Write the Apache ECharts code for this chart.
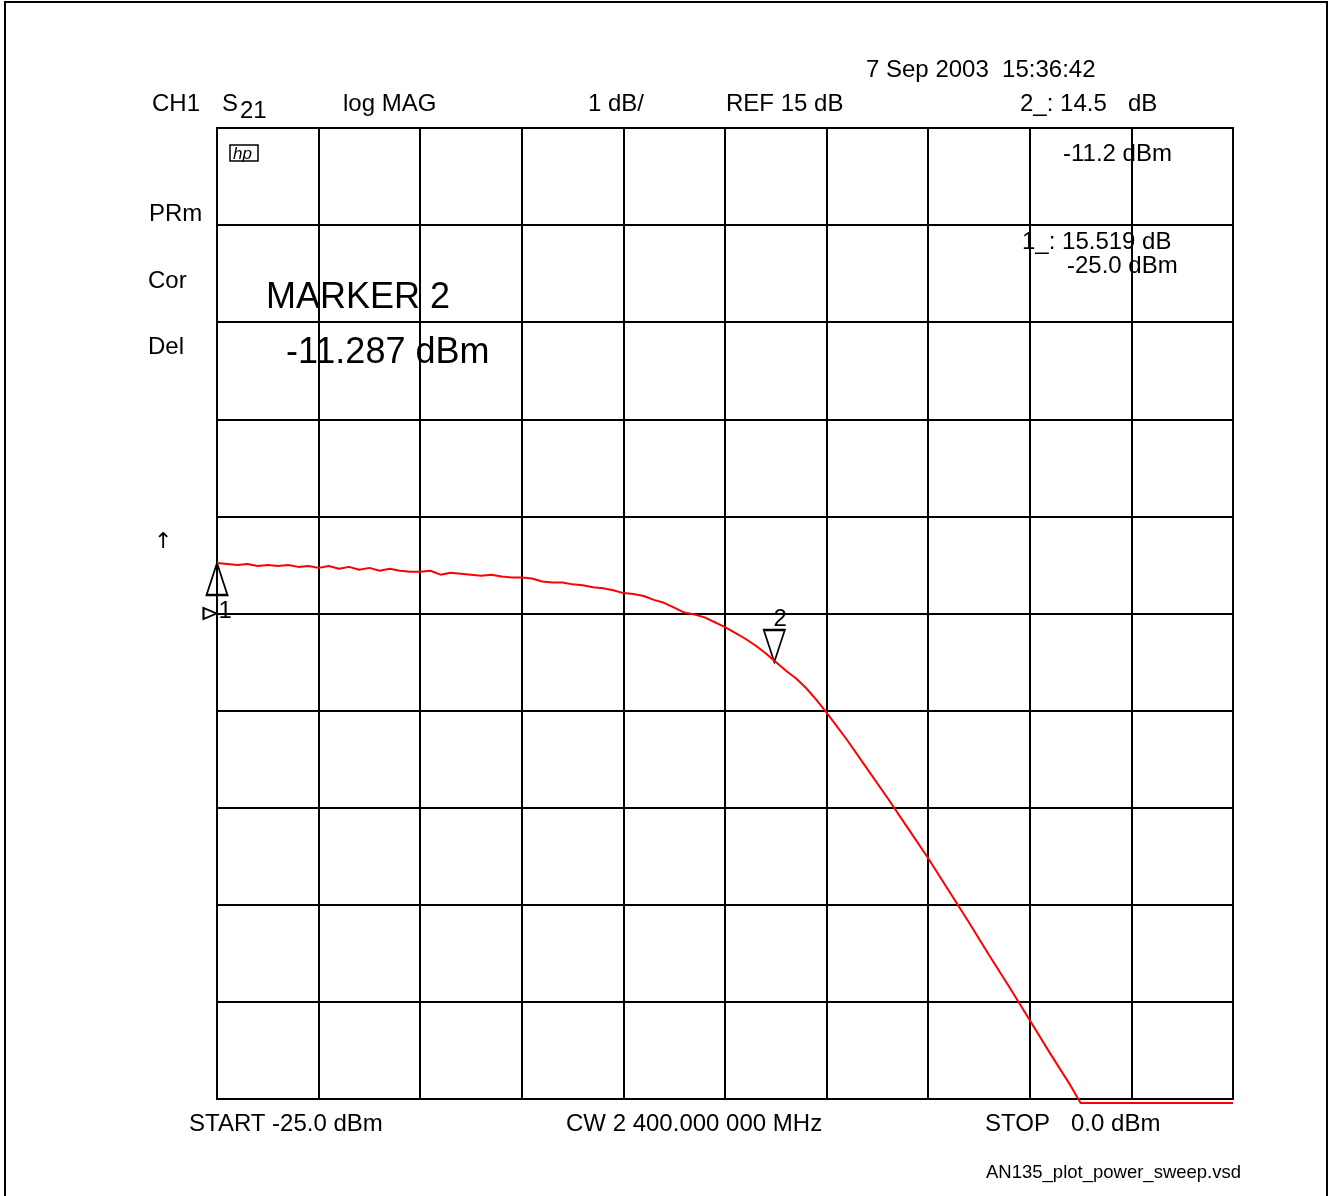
<!DOCTYPE html>
<html>
<head>
<meta charset="utf-8">
<script src="https://cdn.jsdelivr.net/npm/echarts@6/dist/echarts.min.js"></script>
<style>
  html, body { margin: 0; padding: 0; background: #fff; }
  #main { width: 1330px; height: 1196px; }
</style>
</head>
<body>
<div id="main"></div>
<script>
// power sweep, S21 log MAG (dB) vs input power (dBm)
var powerIn = [
  -25.0, -24.75, -24.5, -24.25, -24.0, -23.75, -23.5, -23.25, -23.0, -22.75,
  -22.5, -22.25, -22.0, -21.75, -21.5, -21.25, -21.0, -20.75, -20.5, -20.25,
  -20.0, -19.75, -19.5, -19.25, -19.0, -18.75, -18.5, -18.25, -18.0, -17.75,
  -17.5, -17.25, -17.0, -16.75, -16.5, -16.25, -16.0, -15.75, -15.5, -15.25,
  -15.0, -14.75, -14.5, -14.25, -14.0, -13.75, -13.5, -13.25, -13.0, -12.75,
  -12.5, -12.25, -12.0, -11.75, -11.5, -11.25, -11.0, -10.75, -10.5, -10.25,
  -10.0, -9.5, -9.0, -8.5, -8.0, -7.5, -7.0, -6.5, -6.0, -5.5,
  -5.0, -4.5, -4.0, -3.75, -3.5, -3.0, -2.5, -2.0, -1.5, -1.0, -0.5, 0.0
];
var s21 = [
  15.52, 15.51, 15.50, 15.51, 15.49, 15.50, 15.49, 15.50, 15.48, 15.49,
  15.47, 15.49, 15.46, 15.48, 15.45, 15.47, 15.44, 15.46, 15.44, 15.43,
  15.43, 15.44, 15.40, 15.42, 15.41, 15.40, 15.39, 15.40, 15.38, 15.37,
  15.37, 15.36, 15.33, 15.32, 15.32, 15.30, 15.29, 15.27, 15.26, 15.24,
  15.21, 15.20, 15.18, 15.14, 15.11, 15.06, 15.01, 14.99, 14.96, 14.91,
  14.86, 14.80, 14.74, 14.67, 14.59, 14.50, 14.41, 14.33, 14.23, 14.11,
  13.98, 13.70, 13.40, 13.10, 12.79, 12.48, 12.15, 11.82, 11.48, 11.15,
  10.81, 10.47, 10.14, 9.96, 9.96, 9.96, 9.96, 9.96, 9.96, 9.96, 9.96, 9.96
];

var markerPower = [-25.0, -11.287];
var markerGain = [15.519, 14.5];
var refLevel = 15;

var traceData = powerIn.map(function (p, i) { return [p, s21[i]]; });

var font = '24px "Liberation Sans", Arial, sans-serif';
var bigFont = '36px "Liberation Sans", Arial, sans-serif';

function txt(x, y, s, f) {
  return {
    type: 'text', x: x, y: y,
    style: { text: s, font: f || font, fill: '#000', verticalAlign: 'middle', align: 'left' }
  };
}

var myChart = echarts.init(document.getElementById('main'));
var option = {
  animation: false,
  backgroundColor: '#fff',
  grid: { left: 217, top: 128, width: 1016, height: 971, show: true, borderColor: '#000', borderWidth: 2 },
  xAxis: {
    type: 'value', min: -25, max: 0, interval: 2.5,
    axisLabel: { show: false }, axisTick: { show: false },
    axisLine: { show: true, lineStyle: { color: '#000', width: 2 } },
    splitLine: { show: true, lineStyle: { color: '#000', width: 2 } }
  },
  yAxis: {
    type: 'value', min: 10, max: 20, interval: 1,
    axisLabel: { show: false }, axisTick: { show: false },
    axisLine: { show: true, lineStyle: { color: '#000', width: 2 } },
    splitLine: { show: true, lineStyle: { color: '#000', width: 2 } }
  },
  series: [
    {
      type: 'line',
      data: traceData,
      clip: false,
      showSymbol: false,
      lineStyle: { color: '#ff0000', width: 2 },
      z: 5,
      markPoint: {
        data: [
          {
            coord: [markerPower[0], markerGain[0]],
            symbol: 'triangle', symbolSize: [21, 32], symbolOffset: [0, '50%'],
            itemStyle: { color: 'rgba(255,255,255,0)', borderColor: '#000', borderWidth: 2 },
            label: { show: false }
          },
          {
            coord: [markerPower[1], markerGain[1]],
            symbol: 'triangle', symbolSize: [21, 32], symbolRotate: 180, symbolOffset: [0, '-50%'],
            itemStyle: { color: 'rgba(255,255,255,0)', borderColor: '#000', borderWidth: 2 },
            label: { show: true, formatter: '2', position: 'top', distance: 0, offset: [6, 3],
              color: '#000', fontSize: 24, fontFamily: '"Liberation Sans", Arial, sans-serif' }
          },
          {
            coord: [markerPower[0], refLevel],
            symbol: 'triangle', symbolSize: [11, 13], symbolRotate: -90, symbolOffset: [-7, 0],
            itemStyle: { color: 'rgba(255,255,255,0)', borderColor: '#000', borderWidth: 2 },
            label: { show: true, formatter: '1', position: 'right', distance: 1, offset: [0, -2],
              color: '#000', fontSize: 24, fontFamily: '"Liberation Sans", Arial, sans-serif' }
          }
        ]
      }
    }
  ],
  graphic: [
    {
      type: 'rect', shape: { x: 5, y: 2, width: 1322, height: 1210 },
      style: { fill: 'none', stroke: '#000', lineWidth: 2 }, silent: true
    },
    txt(866, 70, '7 Sep 2003  15:36:42'),
    txt(152, 104, 'CH1'),
    txt(222, 104, 'S'),
    txt(240, 111, '21'),
    txt(343, 104, 'log MAG'),
    txt(588, 104, '1 dB/'),
    txt(726, 104, 'REF 15 dB'),
    txt(1020, 104, '2_: 14.5'),
    txt(1128, 104, 'dB'),
    txt(1063, 154, '-11.2 dBm'),
    txt(1022, 242, '1_: 15.519 dB'),
    txt(1067, 266, '-25.0 dBm'),
    txt(149, 214, 'PRm'),
    txt(148, 281, 'Cor'),
    txt(148, 347, 'Del'),
    txt(266, 298, 'MARKER 2', bigFont),
    txt(286, 353, '-11.287 dBm', bigFont),
    txt(154, 542, '\u2191', '22px "DejaVu Sans", sans-serif'),
    txt(189, 1124, 'START -25.0 dBm'),
    txt(566, 1124, 'CW 2 400.000 000 MHz'),
    txt(985, 1124, 'STOP'),
    txt(1071, 1124, '0.0 dBm'),
    txt(986, 1173, 'AN135_plot_power_sweep.vsd', '18.5px "Liberation Sans", Arial, sans-serif'),
    {
      type: 'rect', shape: { x: 230, y: 145, width: 28, height: 16 },
      style: { fill: 'none', stroke: '#000', lineWidth: 1.5 }
    },
    txt(233, 154, 'hp', 'italic 17px "Liberation Sans", Arial, sans-serif')
  ]
};
myChart.setOption(option);
</script>
</body>
</html>
